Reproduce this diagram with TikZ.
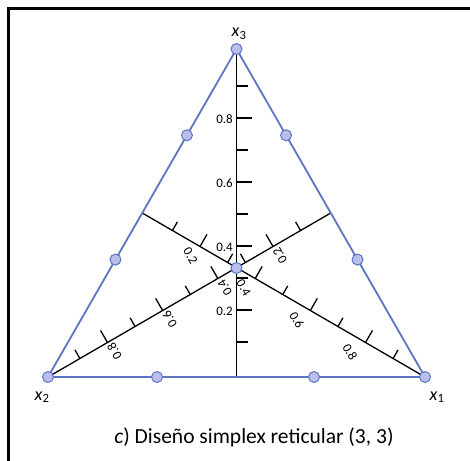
\documentclass[tikz,border=0pt]{standalone}
\usepackage{fontspec}
\setmainfont{Carlito}
\usetikzlibrary{calc}
\definecolor{edgeblue}{RGB}{92,118,196}
\definecolor{ptfill}{RGB}{186,190,234}
\begin{document}
\begin{tikzpicture}[x=1pt,y=-1pt,
  axisline/.style={line width=1.3pt,black},
  edgeline/.style={line width=1.8pt,edgeblue},
  latpt/.style={circle,draw=edgeblue,fill=ptfill,line width=1pt,minimum size=11pt,inner sep=0pt},
  ticklab/.style={font=\fontsize{13}{13}\selectfont,inner sep=0pt},
  vlab/.style={font=\fontsize{18}{18}\selectfont,inner sep=0pt}]
\useasboundingbox (0,0) rectangle (470,460);
\fill[white] (0,0) rectangle (470,460);
\draw[line width=3pt] (8,463) -- (8,9) -- (473,9);
% vertices
\coordinate (T) at (236.5,49);
\coordinate (L) at (48,377);
\coordinate (R) at (425,377);
\coordinate (B) at (236.5,377);
\coordinate (ML) at ($(L)!0.5!(T)$);
\coordinate (MR) at ($(R)!0.5!(T)$);
% axes
\draw[axisline] (T) -- (B);
\draw[axisline] (L) -- (MR);
\draw[axisline] (R) -- (ML);
% ticks
\foreach \v in {1,...,9}{
  \pgfmathsetmacro\s{(3+31.9*\v)/327}
  \pgfmathsetmacro\lv{mod(\v,2)==1 ? 11 : 15}
  \pgfmathsetmacro\lr{mod(\v,2)==1 ? 10 : 14}
  \draw[axisline] ($(B)!\s!(T)$) -- ++(\lv,0);
  \draw[axisline] ($(MR)!\s!(L)$) -- ++({-0.5*\lr},{-0.866*\lr});
  \draw[axisline] ($(ML)!\s!(R)$) -- ++({0.5*\lr},{-0.866*\lr});
}
% tick labels
\foreach \v in {2,4,6,8}{
  \pgfmathsetmacro\s{(3+31.9*\v)/327}
  \pgfmathsetmacro\ox{-(7.5+\v)}
  \node[ticklab,anchor=east] at ($(B)!\s!(T)+(-3.5,1.5)$) {0.\v};
  \node[ticklab,rotate=120] at ($(MR)!\s!(L)+(7,9)$) {0.\v};
  \node[ticklab,rotate=-60] at ($(ML)!\s!(R)+(\ox,9.5)$) {0.\v};
}
% triangle
\draw[edgeline] (L) -- (R) -- (T) -- cycle;
% lattice points
\node[latpt] (p3) at (T) {};
\node[latpt] (p2) at (L) {};
\node[latpt] (p1) at (R) {};
\node[latpt] (pl1) at ($(L)!0.358!(T)$) {};
\node[latpt] (pl2) at ($(L)!0.737!(T)$) {};
\node[latpt] (pr1) at ($(R)!0.358!(T)$) {};
\node[latpt] (pr2) at ($(R)!0.737!(T)$) {};
\node[latpt] (pb1) at (157,377) {};
\node[latpt] (pb2) at (314,377) {};
\node[latpt] (pc) at (236.5,268) {};
% vertex labels
\node[vlab] (lx3) at (239,34) {\textit{x}\textsubscript{3}};
\node[vlab] (lx2) at (42,397) {\textit{x}\textsubscript{2}};
\node[vlab] (lx1) at (437,397) {\textit{x}\textsubscript{1}};
% caption
\node[font=\fontsize{21.5}{21.5}\selectfont,inner sep=0pt] (cap) at (254,437) {\textit{c}) Diseño simplex reticular (3, 3)};
\end{tikzpicture}
\end{document}
